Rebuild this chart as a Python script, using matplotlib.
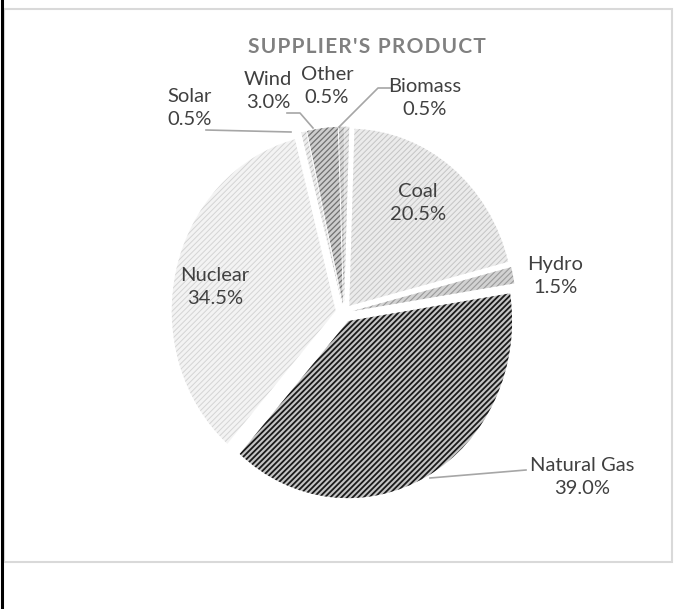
import matplotlib

matplotlib.use("Agg")
import matplotlib.pyplot as plt
from matplotlib.patches import Rectangle

# slices, clockwise from 12 o'clock
labels = ["Biomass", "Coal", "Hydro", "Natural Gas", "Nuclear", "Solar", "Wind", "Other"]
shares = [0.5, 20.5, 1.5, 39.0, 34.5, 0.5, 3.0, 0.5]
title = "SUPPLIER'S PRODUCT"

W, H = 698, 609
K = 1.08  # the source picture is a bit taller than wide
faces = ["#e6e6e6", "#ebebeb", "#d2d2d2", "#c4c4c4", "#f3f3f3", "#eeeeee", "#cdcdcd", "#d8d8d8"]
hatch_cols = ["#b0b0b0", "#c4c4c4", "#9a9a9a", "#1a1a1a", "#d4d4d4", "#bcbcbc", "#707070", "#909090"]
hatch_lw = [0.7, 0.7, 0.8, 1.3, 0.7, 0.7, 0.9, 0.8]

# label centres in pixels (x, y from top) and leader lines
label_pos = {
    "Biomass": (425, 98), "Coal": (418, 203), "Hydro": (555, 276),
    "Natural Gas": (582, 477), "Nuclear": (215, 287), "Solar": (190, 108),
    "Wind": (268, 91), "Other": (327, 86),
}
leaders = {
    "Biomass": [(390, 88), (378, 88), (339, 127)],
    "Solar": [(206, 130), (291, 132)],
    "Wind": [(287, 113), (300, 113), (313, 128)],
    "Natural Gas": [(526, 470), (430, 478)],
}


def Y(ypx):
    return (H - ypx) / K


fig = plt.figure(figsize=(W / 100, H / 100), dpi=100)
ax = fig.add_axes([0, 0, 1, 1])

wedges, _ = ax.pie(
    shares, startangle=90, counterclock=False, center=(344, Y(313)), radius=164,
    explode=[8.5] * len(shares), wedgeprops=dict(linewidth=0),
)
for w, fc, hc, lw in zip(wedges, faces, hatch_cols, hatch_lw):
    w.set_facecolor(fc)
    w.set_edgecolor(hc)
    w.set_hatch("//////")
    if hasattr(w, "set_hatch_linewidth"):
        w.set_hatch_linewidth(lw)

ax.set_xlim(0, W)
ax.set_ylim(0, H / K)
ax.set_aspect("auto")
ax.axis("off")

font = ["Lato", "DejaVu Sans"]
for lab, val in zip(labels, shares):
    x, y = label_pos[lab]
    ax.text(x, Y(y), f"{lab}\n{val:.1f}%", ha="center", va="center", fontsize=14.5,
            color="#404040", family=font, linespacing=1.45)
for pts in leaders.values():
    ax.plot([p[0] for p in pts], [Y(p[1]) for p in pts], color="#a6a6a6", lw=1.2)

ax.text(367, Y(47), "\u200a".join(title), ha="center", va="center", fontsize=15,
        fontweight="bold", color="#808080", family=font)

# chart frame and the black edge on the left
ax.add_patch(Rectangle((4, Y(562)), 668, 553 / K, fill=False, edgecolor="#d9d9d9", lw=1.5))
ax.plot([2, 2], [0, H / K], color="black", lw=2.2)

fig.savefig("out.png", dpi=100)
